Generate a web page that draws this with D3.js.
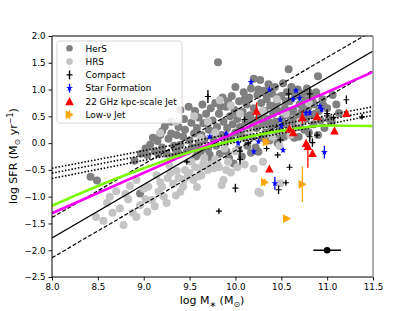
<!DOCTYPE html>
<html>
<head>
<meta charset="utf-8">
<script src="https://d3js.org/d3.v7.min.js"></script>
<style>
  body { margin: 0; background: #fff; }
  svg { display: block; font-family: "DejaVu Sans", sans-serif; }
</style>
</head>
<body>
<svg id="chart" width="415" height="311"></svg>
<script>
// HerS sample, [logM, logSFR]
const hersPoints = [
  [8.42,-0.63],[8.49,-0.7],[8.96,-0.94],[8.9,-0.33],[8.97,-0.2],[9.02,-0.1],
  [9.04,-0.22],[9.07,-0.03],[9.1,0.1],[9.12,-0.15],[9.15,0.04],[9.18,0.15],[9.2,0.22],[9.2,-0.08],
  [9.23,0.31],[9.25,-0.2],[9.27,0.08],[9.3,0.18],[9.32,-0.25],[9.33,-0.05],[9.36,0.15],[9.38,0.3],[9.4,-0.03],[9.4,0.62],[9.38,-0.18],
  [9.43,0.12],[9.45,0.25],[9.47,-0.15],[9.49,0.68],[9.5,0.05],[9.52,0.38],[9.53,-0.08],[9.55,0.18],[9.57,-0.25],[9.58,0.28],[9.6,0.48],[9.6,0.0],
  [9.62,-0.18],[9.63,0.15],[9.65,0.37],[9.66,0.06],[9.68,0.55],[9.7,-0.12],[9.71,0.25],[9.73,0.65],[9.74,-0.32],[9.75,0.42],[9.76,0.08],[9.78,0.75],[9.79,-0.05],[9.8,0.3],
  [9.81,1.51],[9.82,0.55],[9.83,-0.2],[9.85,0.15],[9.86,0.85],[9.87,0.4],[9.88,-0.02],[9.9,0.68],[9.91,0.28],[9.93,-0.28],[9.94,0.5],[9.95,0.08],[9.96,0.88],[9.97,0.35],[9.98,-0.38],[9.99,0.62],[10.0,1.05],[10.0,0.2],
  [10.02,0.45],[10.03,-0.12],[10.04,0.78],[10.05,0.3],[10.07,-0.25],[10.08,0.58],[10.09,0.95],[10.1,0.1],[10.11,0.4],[10.12,0.72],[10.13,-0.05],[10.14,0.25],[10.15,0.85],[10.16,0.52],[10.17,1.02],[10.18,0.12],[10.19,0.38],[10.2,1.2],[10.2,0.65],
  [10.22,-0.08],[10.23,0.28],[10.24,0.9],[10.25,-0.16],[10.26,0.48],[10.27,1.18],[10.28,0.75],[10.29,0.1],[10.3,0.35],[10.31,0.98],[10.32,0.6],[10.33,0.2],[10.34,0.82],[10.35,0.45],[10.36,1.1],[10.37,0.05],[10.38,0.7],[10.39,0.3],[10.4,0.92],
  [10.41,0.55],[10.42,0.15],[10.43,1.05],[10.44,0.4],[10.45,0.75],[10.46,0.0],[10.47,0.6],[10.48,0.25],[10.5,0.88],[10.51,0.45],[10.52,1.12],[10.53,0.12],[10.54,0.65],[10.55,0.35],[10.56,0.95],[10.57,0.52],[10.58,1.38],[10.58,0.2],[10.59,0.78],
  [10.61,1.05],[10.62,0.4],[10.63,0.62],[10.64,0.1],[10.65,0.88],[10.66,0.3],[10.67,0.5],[10.68,1.0],[10.69,0.12],[10.7,0.72],[10.71,0.38],[10.72,0.58],[10.73,0.92],[10.75,0.25],[10.76,0.8],[10.77,0.45],[10.78,1.02],[10.79,0.65],
  [10.8,0.2],[10.82,0.88],[10.83,0.52],[10.85,0.35],[10.86,0.72],[10.88,0.95],[10.9,1.25],[10.9,0.15],[10.91,0.6],[10.93,0.42],[10.95,0.82],[10.97,0.28],[11.0,0.65],[11.02,0.45],[11.05,0.4],[11.06,0.9],[11.1,0.72],[11.13,0.56],
  [9.44,0.45],[9.56,0.6],[9.64,0.72],[9.69,0.38],[9.77,0.22],[9.84,0.68],[9.89,0.12],[9.92,0.78],[10.01,0.58],[10.06,0.15],[10.1,0.82],[10.13,0.48],
  [10.21,0.42],[10.25,1.0],[10.29,0.55],[10.33,0.92],[10.37,0.38],[10.42,0.68],[10.46,0.85],[10.5,0.1],[10.55,0.78],[10.6,0.58],[10.64,0.95],[10.68,0.32],
  [10.74,0.7],[10.8,0.95],[10.84,0.78],[10.87,0.55],[10.96,0.7],[9.3,0.4],[9.35,-0.12],[9.16,-0.2],[9.58,-0.12],[9.72,-0.22],[9.9,-0.15],[10.17,-0.18]
];

// HRS sample
const hrsPoints = [
  [8.48,-1.38],[8.56,-1.45],[8.6,-1.12],[8.63,-1.0],[8.7,-0.9],[8.74,-1.22],[8.78,-1.53],[8.83,-1.05],[8.85,-0.8],[8.88,-1.3],
  [8.92,-0.69],[8.92,-1.38],[8.96,-1.16],[9.0,-0.85],[9.04,-1.28],[9.05,-0.81],[9.09,-1.06],[9.12,-1.18],[9.14,-0.6],[9.16,-0.91],
  [9.18,-0.73],[9.22,-1.0],[9.25,-1.12],[9.28,-0.42],[9.29,-0.56],[9.32,-0.76],[9.35,-0.98],[9.38,-0.65],[9.4,-0.91],[9.43,-0.81],
  [9.45,-0.5],[9.48,-0.62],[9.5,-0.56],[9.52,-0.35],[9.54,-0.69],[9.56,-0.45],[9.58,-0.82],[9.61,-0.47],[9.63,-0.6],[9.65,-0.38],
  [9.7,-0.5],[9.73,-0.4],[9.76,-0.47],[9.78,-0.3],[9.82,-0.45],[9.85,-0.78],[9.87,-0.69],[9.9,-0.5],[9.92,-0.35],[9.95,-0.55],
  [10.02,-0.45],[10.1,-0.4],[10.2,-0.48],[10.25,-0.91],[10.27,-0.93],[10.3,-0.35],[10.49,-0.75],
  [9.18,0.19],[9.35,0.4],[9.55,0.5],[9.7,0.4],[9.83,0.8],[9.95,0.7],[10.05,0.55],[10.15,0.2],[10.3,0.6],[10.4,0.12],
  [10.45,0.82],[10.55,0.55],[10.6,0.15],[10.7,0.4],[10.8,0.75],[9.62,0.1],[9.78,0.2],[9.88,-0.1],[10.0,-0.15],[10.48,-0.05],
  [8.66,-1.3],[8.8,-0.95],[9.02,-1.05],[9.2,-0.82],[9.26,-0.65],[9.36,-0.52],[9.44,-0.68],[9.6,-0.62],[9.66,-0.28],[9.8,-0.38]
];

// [logM, logSFR, yerr]
const compactPoints = [
  [9.70,0.87,0.12],[10.58,0.92,0.1],[10.81,0.92,0.1],[11.21,0.81,0.08],[11.38,0.49,0.04],[10.10,0.44,0.03],
  [11.0,0.55,0.08],[11.07,0.48,0.03],[10.81,0.12,0.1],[10.49,0.06,0.03],[10.14,0.0,0.03],[10.05,-0.15,0.03],
  [10.34,-0.1,0.03],[10.46,-0.22,0.03],[10.84,0.01,0.08],[10.05,-0.3,0.1],[10.59,-0.45,0.05],[10.55,-0.74,0.03],
  [10.47,-0.87,0.08],[10.0,-0.84,0.08],[9.82,-1.27,0.03],[9.47,-0.35,0.03],[10.89,0.15,0.03]
];

const starFormation = [
  [10.17,1.14,0.05],[10.37,1.0,0.04],[10.66,0.98,0.04],[10.63,0.82,0.05],[10.7,0.84,0.05],[10.77,0.56,0.05],
  [10.81,0.57,0.05],[10.92,0.69,0.05],[10.94,0.63,0.05],[10.49,0.44,0.05],[10.5,0.32,0.05],[9.72,0.12,0.04],
  [9.9,0.18,0.04],[10.03,0.0,0.04],[10.2,-0.16,0.04],[10.52,-0.13,0.04],[10.97,-0.17,0.12],[10.43,-0.75,0.12],[10.25,0.03,0.04]
];

// [logM, logSFR, err below, err above]
const jetKpc = [
  [10.23,0.6,0.16,0.16],[10.73,0.48,0.12,0.12],[10.89,0.5,0.05,0.05],[11.21,0.56,0,0],[10.59,0.27,0,0],[10.63,0.2,0,0],
  [11.08,0.23,0,0],[10.77,0.0,0,0],[10.79,-0.06,0.4,0],[10.84,-0.19,0,0],[10.37,-0.48,0,0]
];

const lowNuJet = [
  [10.34,0.02,0.07],[10.32,-0.73,0.07],[10.73,-0.77,0.33],[10.56,-1.41,0.04]
];

// reference relations
const mainSeq = [[8.0,-1.77],[11.5,1.72]];
const mainSeqHi = [[8.0,-1.39],[11.5,2.10]];
const mainSeqLo = [[8.0,-2.14],[11.5,1.36]];
const magentaFit = [[8.0,-1.31],[11.5,1.33]];
const greenFit = [[8.0,-1.17],[8.5,-0.8],[9.0,-0.47],[9.5,-0.17],[10.0,0.06],[10.5,0.23],[11.0,0.33],[11.5,0.32]];
const dottedFits = [
  [[8.0,-0.47],[11.5,0.68]],
  [[8.0,-0.56],[11.5,0.60]],
  [[8.0,-0.66],[11.5,0.52]]
];
const typicalErr = [11.0,-2.0,0.15];

const xTicks = [8.0,8.5,9.0,9.5,10.0,10.5,11.0,11.5];
const yTicks = [-2.5,-2.0,-1.5,-1.0,-0.5,0.0,0.5,1.0,1.5,2.0];
const legendLabels = ['HerS','HRS','Compact','Star Formation','22 GHz kpc-scale Jet','Low-\u03bd Jet'];

const svg = d3.select('#chart');
const L = 52, R = 373, T = 36, B = 277;
const x = d3.scaleLinear().domain([8, 11.5]).range([L, R]);
const y = d3.scaleLinear().domain([-2.5, 2]).range([B, T]);

svg.append('defs').append('clipPath').attr('id', 'clip')
  .append('rect').attr('x', L).attr('y', T).attr('width', R - L).attr('height', B - T);

const plot = svg.append('g').attr('clip-path', 'url(#clip)');

const triUp = 'M0,-4.3L4.3,3.8L-4.3,3.8Z';
const triRight = 'M4.3,0L-3.8,-4.3L-3.8,4.3Z';
const star = d3.symbol(d3.symbolStar).size(14)();

function vErr(g, cx, cy, lo, hi, color) {
  if (lo === 0 && hi === 0) return;
  g.append('line').attr('x1', cx).attr('x2', cx)
    .attr('y1', y(cy - lo)).attr('y2', y(cy + hi))
    .attr('stroke', color).attr('stroke-width', 1.3);
}

function plus(g, px, py, color) {
  g.append('path').attr('d', `M${px - 3},${py}H${px + 3}M${px},${py - 3}V${py + 3}`)
    .attr('stroke', color).attr('stroke-width', 1.1).attr('fill', 'none');
}

// scatter samples
plot.append('g').selectAll('circle').data(hersPoints).join('circle')
  .attr('cx', d => x(d[0])).attr('cy', d => y(d[1])).attr('r', 4).attr('fill', '#808080');
plot.append('g').selectAll('circle').data(hrsPoints).join('circle')
  .attr('cx', d => x(d[0])).attr('cy', d => y(d[1])).attr('r', 4).attr('fill', '#c4c4c4');

// relations
const line = d3.line().x(d => x(d[0])).y(d => y(d[1]));
dottedFits.forEach(f => {
  plot.append('path').attr('d', line(f)).attr('fill', 'none')
    .attr('stroke', '#000').attr('stroke-width', 1.6).attr('stroke-dasharray', '1.5,1.8');
});
plot.append('path').attr('d', line(mainSeq)).attr('fill', 'none').attr('stroke', '#000').attr('stroke-width', 1.2);
[mainSeqHi, mainSeqLo].forEach(f => {
  plot.append('path').attr('d', line(f)).attr('fill', 'none')
    .attr('stroke', '#000').attr('stroke-width', 1.2).attr('stroke-dasharray', '4,2');
});
plot.append('path').attr('d', line(magentaFit)).attr('fill', 'none').attr('stroke', '#ff00ff').attr('stroke-width', 2.6);
plot.append('path').attr('d', d3.line().curve(d3.curveMonotoneX).x(d => x(d[0])).y(d => y(d[1]))(greenFit))
  .attr('fill', 'none').attr('stroke', '#7cfc00').attr('stroke-width', 2.6);

// source classes
const marks = plot.append('g');
compactPoints.forEach(d => {
  vErr(marks, x(d[0]), d[1], d[2], d[2], '#000');
  plus(marks, x(d[0]), y(d[1]), '#000');
});
starFormation.forEach(d => {
  vErr(marks, x(d[0]), d[1], d[2], d[2], '#0000ff');
  marks.append('path').attr('d', star).attr('transform', `translate(${x(d[0])},${y(d[1])})`).attr('fill', '#0000ff');
});
jetKpc.forEach(d => {
  vErr(marks, x(d[0]), d[1], d[2], d[3], '#ff0000');
  marks.append('path').attr('d', triUp).attr('transform', `translate(${x(d[0])},${y(d[1])})`).attr('fill', '#ff0000');
});
lowNuJet.forEach(d => {
  vErr(marks, x(d[0]), d[1], d[2], d[2], '#ffa500');
  marks.append('path').attr('d', triRight).attr('transform', `translate(${x(d[0])},${y(d[1])})`).attr('fill', '#ffa500');
});

// typical uncertainty
marks.append('line').attr('x1', x(typicalErr[0] - typicalErr[2])).attr('x2', x(typicalErr[0] + typicalErr[2]))
  .attr('y1', y(typicalErr[1])).attr('y2', y(typicalErr[1])).attr('stroke', '#000').attr('stroke-width', 1.5);
marks.append('circle').attr('cx', x(typicalErr[0])).attr('cy', y(typicalErr[1])).attr('r', 3.3).attr('fill', '#000');

// axes
const fmt = d3.format('.1f');
const xAxis = svg.append('g').attr('transform', `translate(0,${B})`)
  .call(d3.axisBottom(x).tickValues(xTicks).tickFormat(fmt).tickSize(3.5).tickPadding(3));
const yAxis = svg.append('g').attr('transform', `translate(${L},0)`)
  .call(d3.axisLeft(y).tickValues(yTicks).tickFormat(fmt).tickSize(3.5).tickPadding(3));
[xAxis, yAxis].forEach(a => {
  a.select('.domain').remove();
  a.selectAll('text').attr('font-size', 8.7).attr('font-family', '"DejaVu Sans", sans-serif').attr('fill', '#000');
  a.selectAll('line').attr('stroke', '#000').attr('stroke-width', 0.9);
});

// frame
svg.append('path').attr('d', `M${L},${T}V${B}H${R}`).attr('fill', 'none').attr('stroke', '#000').attr('stroke-width', 1);
svg.append('path').attr('d', `M${L},${T}H${R}`).attr('fill', 'none').attr('stroke', '#000').attr('stroke-width', 1);
svg.append('path').attr('d', `M${R},${T}V${B}`).attr('fill', 'none').attr('stroke', '#999').attr('stroke-width', 1.6);

// axis labels
const xl = svg.append('text').attr('x', 212).attr('y', 304).attr('text-anchor', 'middle').attr('font-size', 11);
xl.append('tspan').text('log M');
xl.append('tspan').text('\u2217').attr('font-size', 8).attr('dy', 3);
xl.append('tspan').text(' (M').attr('dy', -3);
xl.append('tspan').text('\u2299').attr('font-size', 8).attr('dy', 3);
xl.append('tspan').text(')').attr('dy', -3);

const yl = svg.append('text').attr('transform', 'translate(17,156) rotate(-90)').attr('text-anchor', 'middle').attr('font-size', 11);
yl.append('tspan').text('log SFR (M');
yl.append('tspan').text('\u2299').attr('font-size', 8).attr('dy', 3);
yl.append('tspan').text(' yr').attr('dy', -3);
yl.append('tspan').text('\u22121').attr('font-size', 8).attr('dy', -4);
yl.append('tspan').text(')').attr('dy', 4);

// legend
const lg = svg.append('g');
lg.append('rect').attr('x', 57).attr('y', 41).attr('width', 125).attr('height', 82).attr('rx', 2.5)
  .attr('fill', '#fff').attr('fill-opacity', 0.85).attr('stroke', '#d0d0d0').attr('stroke-width', 0.9);
const rowY = d3.scalePoint().domain(legendLabels).range([48.3, 114.7]);
const mx = 69.5;
legendLabels.forEach((lab, i) => {
  const ry = rowY(lab);
  if (i === 0) lg.append('circle').attr('cx', mx).attr('cy', ry).attr('r', 3.3).attr('fill', '#808080');
  if (i === 1) lg.append('circle').attr('cx', mx).attr('cy', ry).attr('r', 3.3).attr('fill', '#c4c4c4');
  if (i === 2) {
    lg.append('line').attr('x1', mx).attr('x2', mx).attr('y1', ry - 4.5).attr('y2', ry + 4.5).attr('stroke', '#000').attr('stroke-width', 1.3);
    plus(lg, mx, ry, '#000');
  }
  if (i === 3) {
    lg.append('line').attr('x1', mx).attr('x2', mx).attr('y1', ry - 4.5).attr('y2', ry + 4.5).attr('stroke', '#0000ff').attr('stroke-width', 1.3);
    lg.append('path').attr('d', star).attr('transform', `translate(${mx},${ry})`).attr('fill', '#0000ff');
  }
  if (i === 4) lg.append('path').attr('d', triUp).attr('transform', `translate(${mx},${ry})`).attr('fill', '#ff0000');
  if (i === 5) {
    lg.append('line').attr('x1', mx).attr('x2', mx).attr('y1', ry - 4.5).attr('y2', ry + 4.5).attr('stroke', '#ffa500').attr('stroke-width', 1.3);
    lg.append('path').attr('d', triRight).attr('transform', `translate(${mx},${ry})`).attr('fill', '#ffa500');
  }
  lg.append('text').attr('x', 85.5).attr('y', ry + 3.2).attr('font-size', 8.9).text(lab);
});
</script>
</body>
</html>
